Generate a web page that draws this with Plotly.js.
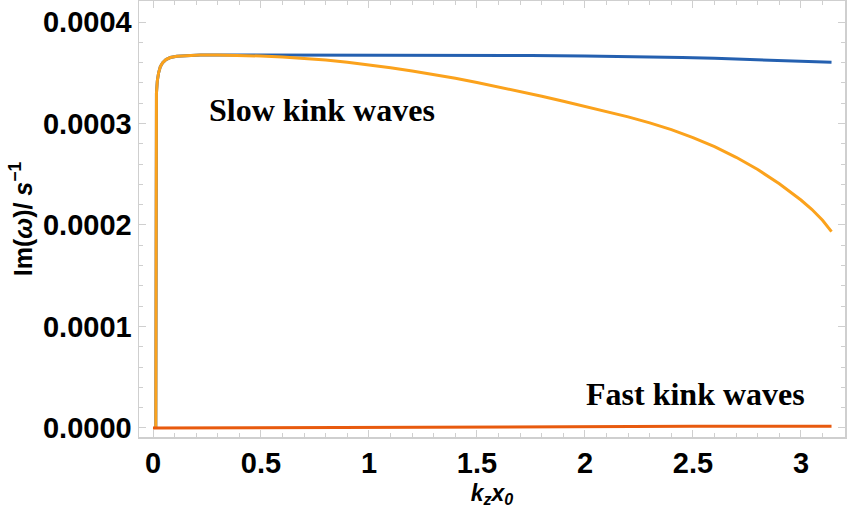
<!DOCTYPE html>
<html>
<head>
<meta charset="utf-8">
<script src="https://cdn.plot.ly/plotly-3.0.1.min.js"></script>
<style>html,body{margin:0;padding:0;background:#fff;}#chart{width:847px;height:510px;}</style>
</head>
<body>
<div id="chart"></div>
<script>
// Slow kink waves (upper, blue)
var slowBlueX = [0.013, 0.0135, 0.0145, 0.016, 0.02, 0.026, 0.034, 0.045, 0.06, 0.08, 0.11, 0.16, 0.22, 0.3, 0.5, 0.7, 1.0, 1.25, 1.5, 1.75, 2.0, 2.15, 2.3, 2.45, 2.6, 2.8, 3.0, 3.1416];
var slowBlueY = [0, 0.00015, 0.00030, 0.00033, 0.000342, 0.00035, 0.000356, 0.00036, 0.000363, 0.000365, 0.0003663, 0.000367, 0.0003674, 0.0003676, 0.0003676, 0.0003676, 0.0003675, 0.0003674, 0.0003672, 0.0003669, 0.0003665, 0.0003662, 0.0003657, 0.000365, 0.0003642, 0.0003628, 0.0003615, 0.0003603];
// Slow kink waves (lower, orange)
var slowOrangeX = [0.013, 0.0135, 0.0145, 0.016, 0.02, 0.026, 0.034, 0.045, 0.06, 0.08, 0.11, 0.16, 0.22, 0.3, 0.4, 0.5, 0.6, 0.7, 0.8, 0.9, 1.0, 1.1, 1.2, 1.3, 1.4, 1.5, 1.6, 1.7, 1.8, 1.9, 2.0, 2.1, 2.2, 2.3, 2.4, 2.5, 2.6, 2.7, 2.8, 2.9, 3.0, 3.05, 3.1, 3.1416];
var slowOrangeY = [0, 0.00015, 0.00030, 0.00033, 0.000342, 0.00035, 0.000356, 0.00036, 0.000363, 0.000365, 0.0003663, 0.000367, 0.0003674, 0.0003676, 0.0003672, 0.0003665, 0.0003655, 0.0003642, 0.0003625, 0.0003604, 0.0003579, 0.000355, 0.0003518, 0.0003483, 0.0003445, 0.0003404, 0.0003361, 0.0003316, 0.0003269, 0.000322, 0.000317, 0.0003119, 0.0003065, 0.0003006, 0.0002939, 0.0002861, 0.0002771, 0.0002667, 0.0002546, 0.0002407, 0.0002246, 0.0002155, 0.0002047, 0.0001935];
// Fast kink waves (red-orange)
var fastX = [0, 0.5, 1.0, 1.5, 2.0, 2.5, 3.0, 3.1416];
var fastY = [0, 0.0000004, 0.0000009, 0.0000013, 0.0000015, 0.0000016, 0.0000016, 0.0000016];

var xTickVals = [0, 0.5, 1, 1.5, 2, 2.5, 3];
var xTickText = ['0', '0.5', '1', '1.5', '2', '2.5', '3'];
var yTickVals = [0, 0.0001, 0.0002, 0.0003, 0.0004];
var yTickText = ['0.0000', '0.0001', '0.0002', '0.0003', '0.0004'];

var labelSlow = 'Slow kink waves';
var labelFast = 'Fast kink waves';

var traces = [
  {x: slowBlueX, y: slowBlueY, mode: 'lines', line: {color: '#2460b0', width: 3}, hoverinfo: 'skip'},
  {x: slowOrangeX, y: slowOrangeY, mode: 'lines', line: {color: '#fba21c', width: 3}, hoverinfo: 'skip'},
  {x: fastX, y: fastY, mode: 'lines', line: {color: '#e85a0e', width: 3}, hoverinfo: 'skip'}
];

var tickFont = {family: 'Liberation Sans, Arial, sans-serif', size: 29, color: '#000', weight: 'bold'};
var frameColor = '#cfcfcf';

var layout = {
  width: 847, height: 510,
  margin: {l: 139, r: 2, t: 1, b: 73},
  paper_bgcolor: '#fff', plot_bgcolor: '#fff',
  showlegend: false,
  xaxis: {
    range: [-0.0648, 3.204],
    tickvals: xTickVals, ticktext: xTickText,
    ticks: 'inside', ticklen: 7, tickwidth: 1, tickcolor: frameColor,
    minor: {dtick: 0.1, ticks: 'inside', ticklen: 4, tickcolor: frameColor},
    showline: true, linecolor: frameColor, linewidth: 1.5, mirror: 'ticks',
    showgrid: false, zeroline: false,
    tickfont: tickFont,
    title: {text: '<i>k<sub>z</sub>x<sub>0</sub></i>', font: {family: 'Liberation Sans, Arial, sans-serif', size: 23, color: '#000', weight: 'bold'}, standoff: 6}
  },
  yaxis: {
    range: [-0.0000089, 0.0004207],
    tickvals: yTickVals, ticktext: yTickText,
    ticks: 'inside', ticklen: 7, tickwidth: 1, tickcolor: frameColor,
    minor: {dtick: 0.00002, ticks: 'inside', ticklen: 4, tickcolor: frameColor},
    showline: true, linecolor: frameColor, linewidth: 1.5, mirror: 'ticks',
    showgrid: false, zeroline: false,
    tickfont: tickFont,
    title: {text: 'Im(<i>ω</i>)/ <i>s</i><sup>−1</sup>', font: {family: 'Liberation Sans, Arial, sans-serif', size: 25, color: '#000', weight: 'bold'}, standoff: 3}
  },
  annotations: [
    {x: 0.782, y: 0.000313, xref: 'x', yref: 'y', text: labelSlow, showarrow: false,
     font: {family: 'Liberation Serif, Times New Roman, serif', size: 32, color: '#000', weight: 'bold'}},
    {x: 2.514, y: 0.000033, xref: 'x', yref: 'y', text: labelFast, showarrow: false,
     font: {family: 'Liberation Serif, Times New Roman, serif', size: 32, color: '#000', weight: 'bold'}}
  ]
};

Plotly.newPlot('chart', traces, layout, {staticPlot: true, displayModeBar: false});
</script>
</body>
</html>
